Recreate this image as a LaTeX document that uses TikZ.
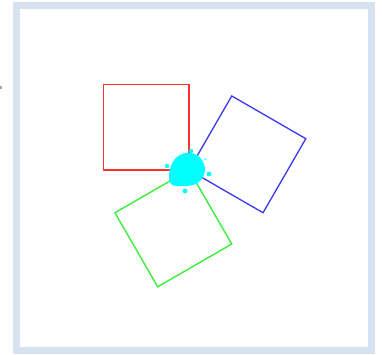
\documentclass[tikz,border=0pt]{standalone}
\begin{document}
\begin{tikzpicture}[x=1pt,y=-1pt,
  frame/.style={draw=framecol,line width=7pt},
  sq/.style={line width=1.3pt,line join=miter},
  blob/.style={fill=cyanc,draw=none}]
\definecolor{framecol}{HTML}{D6E2F0}
\definecolor{redc}{HTML}{FF3030}
\definecolor{bluec}{HTML}{3838F0}
\definecolor{greenc}{HTML}{30EE30}
\definecolor{cyanc}{HTML}{00FFFF}
\useasboundingbox (0,0) rectangle (382,355);
\draw[frame] (16.5,5.5) rectangle (371.5,350.5);
\fill[gray!70] (0,86.5) rectangle (1.5,89.5);
% squares
\draw[sq,draw=redc] (189,170) -- (103.5,170) -- (103.5,84.5) -- (189,84.5) -- cycle;
\draw[sq,draw=bluec] (189,170) -- (231.75,95.95) -- (305.8,138.7) -- (263.05,212.75) -- cycle;
\draw[sq,draw=greenc] (189,170) -- (114.95,212.75) -- (157.7,286.8) -- (231.75,244.05) -- cycle;
% blob
\fill[blob] plot[smooth cycle,tension=0.7] coordinates {(187,153) (197,155) (203,162) (205,171) (201,180) (193,185) (182,186) (172,185) (169,177) (171,166) (177,157)};
\fill[blob] (167,166) circle (2.2);
\fill[blob] (209,174) circle (2.4);
\fill[blob] (185,191) circle (2.4);
\fill[blob] (191,151) circle (2.2);
\fill[blob] (205,159) circle (1.0);
\end{tikzpicture}
\end{document}
